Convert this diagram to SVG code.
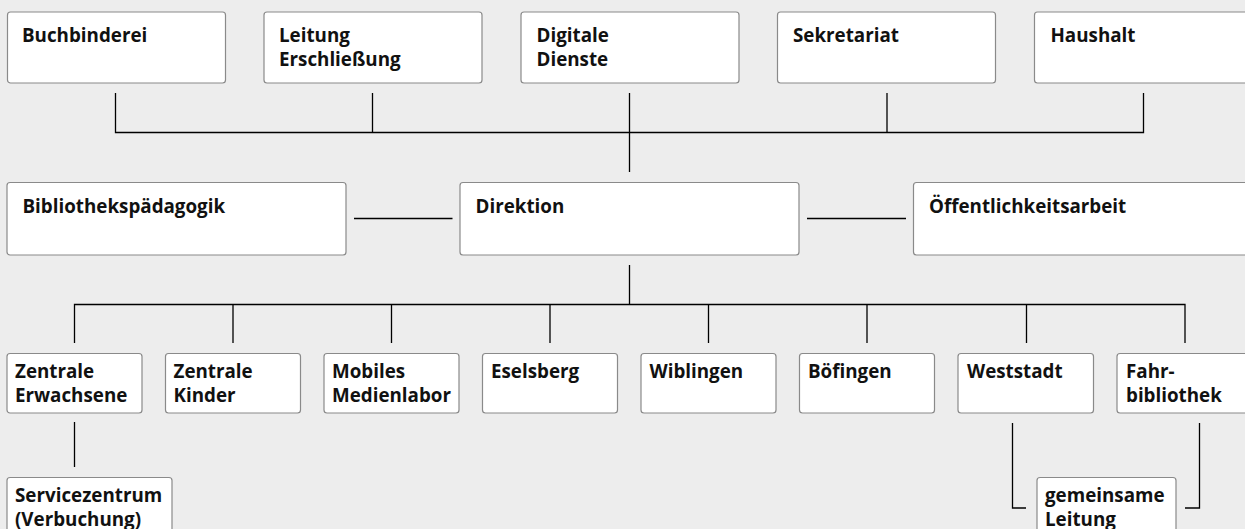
<svg xmlns="http://www.w3.org/2000/svg" width="1245" height="529" viewBox="0 0 1245 529">
<style>
.bg{fill:#ededed}
.box{fill:#ffffff;stroke:#8a8a8a;stroke-width:1.2}
.t{font-family:"Open Sans","Noto Sans","Liberation Sans",sans-serif;font-weight:700;font-size:18.8px;fill:#111111}
.c{stroke:#000000;stroke-width:1.3;fill:none}
</style>
<rect class="bg" x="0" y="0" width="1245" height="529"/>
<g id="connectors">
<path class="c" d="M115.5 93V132.5H1143.5V93M372.5 93V132.5M629.5 93V172M887 93V132.5"/>
<path class="c" d="M354 218.5H452.5M807 218.5H906"/>
<path class="c" d="M629.5 265V304.5M74.5 343V304.5H1185V343M233 304.5V343M391.5 304.5V343M550 304.5V343M708.5 304.5V343M867 304.5V343M1026.5 304.5V343"/>
<path class="c" d="M74.5 422V467"/>
<path class="c" d="M1012.5 423V508H1026M1199.5 423V508H1185"/>
</g>
<g id="n-buchbinderei"><rect class="box" x="7.5" y="12" width="218" height="71" rx="3"/><text class="t" x="22" y="41.5">Buchbinderei</text></g>
<g id="n-leitung-erschliessung"><rect class="box" x="264" y="12" width="218" height="71" rx="3"/><text class="t" x="279" y="41.5">Leitung</text><text class="t" x="279" y="66">Erschließung</text></g>
<g id="n-digitale-dienste"><rect class="box" x="521" y="12" width="218" height="71" rx="3"/><text class="t" x="536.5" y="41.5">Digitale</text><text class="t" x="536.5" y="66">Dienste</text></g>
<g id="n-sekretariat"><rect class="box" x="777.5" y="12" width="218" height="71" rx="3"/><text class="t" x="793" y="41.5">Sekretariat</text></g>
<g id="n-haushalt"><rect class="box" x="1034.5" y="12" width="218" height="71" rx="3"/><text class="t" x="1050.5" y="41.5">Haushalt</text></g>
<g id="n-bibliothekspaedagogik"><rect class="box" x="7" y="182.5" width="339" height="72.5" rx="3"/><text class="t" x="22.5" y="213">Bibliothekspädagogik</text></g>
<g id="n-direktion"><rect class="box" x="460" y="182.5" width="339" height="72.5" rx="3"/><text class="t" x="475.5" y="213">Direktion</text></g>
<g id="n-oeffentlichkeitsarbeit"><rect class="box" x="913.5" y="182.5" width="339" height="72.5" rx="3"/><text class="t" x="929" y="213">Öffentlichkeitsarbeit</text></g>
<g id="n-zentrale-erwachsene"><rect class="box" x="7" y="353.5" width="135" height="59.5" rx="3"/><text class="t" x="15" y="377.5">Zentrale</text><text class="t" x="15" y="401.5">Erwachsene</text></g>
<g id="n-zentrale-kinder"><rect class="box" x="165.5" y="353.5" width="135" height="59.5" rx="3"/><text class="t" x="173.5" y="377.5">Zentrale</text><text class="t" x="173.5" y="401.5">Kinder</text></g>
<g id="n-mobiles-medienlabor"><rect class="box" x="324" y="353.5" width="135" height="59.5" rx="3"/><text class="t" x="332" y="377.5">Mobiles</text><text class="t" x="332" y="401.5">Medienlabor</text></g>
<g id="n-eselsberg"><rect class="box" x="482.5" y="353.5" width="135" height="59.5" rx="3"/><text class="t" x="491" y="377.5">Eselsberg</text></g>
<g id="n-wiblingen"><rect class="box" x="641" y="353.5" width="135" height="59.5" rx="3"/><text class="t" x="649.5" y="377.5">Wiblingen</text></g>
<g id="n-boefingen"><rect class="box" x="799.5" y="353.5" width="135" height="59.5" rx="3"/><text class="t" x="808" y="377.5">Böfingen</text></g>
<g id="n-weststadt"><rect class="box" x="958" y="353.5" width="135.5" height="59.5" rx="3"/><text class="t" x="967" y="377.5">Weststadt</text></g>
<g id="n-fahrbibliothek"><rect class="box" x="1117" y="353.5" width="135" height="59.5" rx="3"/><text class="t" x="1126" y="377.5">Fahr-</text><text class="t" x="1126" y="401.5">bibliothek</text></g>
<g id="n-servicezentrum"><rect class="box" x="7" y="477.5" width="165" height="60" rx="3"/><text class="t" x="15" y="501.5">Servicezentrum</text><text class="t" x="15" y="525.5">(Verbuchung)</text></g>
<g id="n-gemeinsame-leitung"><rect class="box" x="1037" y="477.5" width="139" height="60" rx="3"/><text class="t" x="1045" y="501.5">gemeinsame</text><text class="t" x="1045" y="525.5">Leitung</text></g>
</svg>
